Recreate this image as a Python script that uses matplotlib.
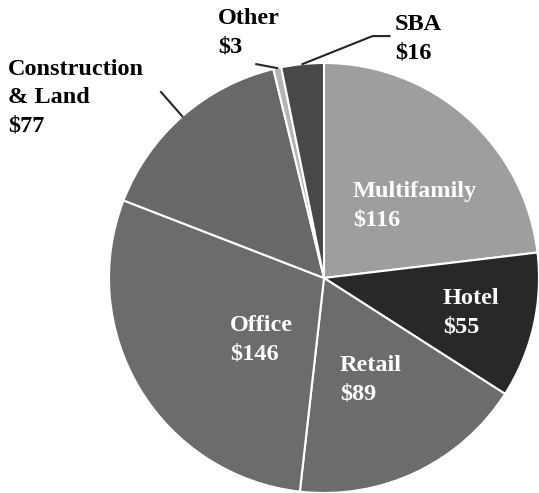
import numpy as np
import matplotlib.pyplot as plt

plt.rcParams['font.family'] = 'serif'
plt.rcParams['font.serif'] = ['Liberation Serif', 'Times New Roman', 'DejaVu Serif']

# loan portfolio by segment ($ millions)
labels = ['Multifamily', 'Hotel', 'Retail', 'Office', 'Construction\n& Land', 'Other', 'SBA']
values = [116, 55, 89, 146, 77, 3, 16]
colors = ['#9e9e9e', '#282828', '#6c6c6c', '#6c6c6c', '#686868', '#b4b4b4', '#484848']

# label top-left corners in pixels (image coords, y down)
label_pos = [(353, 181), (443, 288), (340, 355), (230, 315), (8, 59), (218, 8), (395, 14)]
label_color = ['white', 'white', 'white', 'white', 'black', 'black', 'black']

W, H = 539, 493
cx, cy, R = 324, 278, 215

fig = plt.figure(figsize=(W / 100, H / 100), dpi=100)
ax = fig.add_axes([0, 0, 1, 1])

wedges, _ = ax.pie(values, colors=colors, startangle=90, counterclock=False,
                   center=(cx, H - cy), radius=R,
                   wedgeprops=dict(edgecolor='white', linewidth=1.5))
ax.set_xlim(0, W)
ax.set_ylim(0, H)
ax.set_aspect('auto')
ax.axis('off')

for lab, v, (px, py), c in zip(labels, values, label_pos, label_color):
    ax.text(px, H - py, '%s\n$%d' % (lab, v), ha='left', va='top',
            fontsize=17.5, fontweight='bold', color=c, linespacing=1.45)

# leader lines from wedge edge
def edge_point(w, r):
    a = np.deg2rad((w.theta1 + w.theta2) / 2)
    return cx + r * np.cos(a), H - cy + r * np.sin(a)

x0, y0 = edge_point(wedges[4], R)
x1, y1 = edge_point(wedges[4], R * 1.15)
ax.plot([x0, x1], [y0, y1], color='#262626', lw=1.5)

x0, y0 = edge_point(wedges[5], R)
ax.plot([x0, x0 - 21], [y0, y0 + 4], color='#262626', lw=1.5)

x0, y0 = edge_point(wedges[6], R)
ax.plot([x0, x0 + 70, x0 + 87], [y0, y0 + 28, y0 + 28], color='#262626', lw=1.5)

fig.savefig('out.png', dpi=100)
